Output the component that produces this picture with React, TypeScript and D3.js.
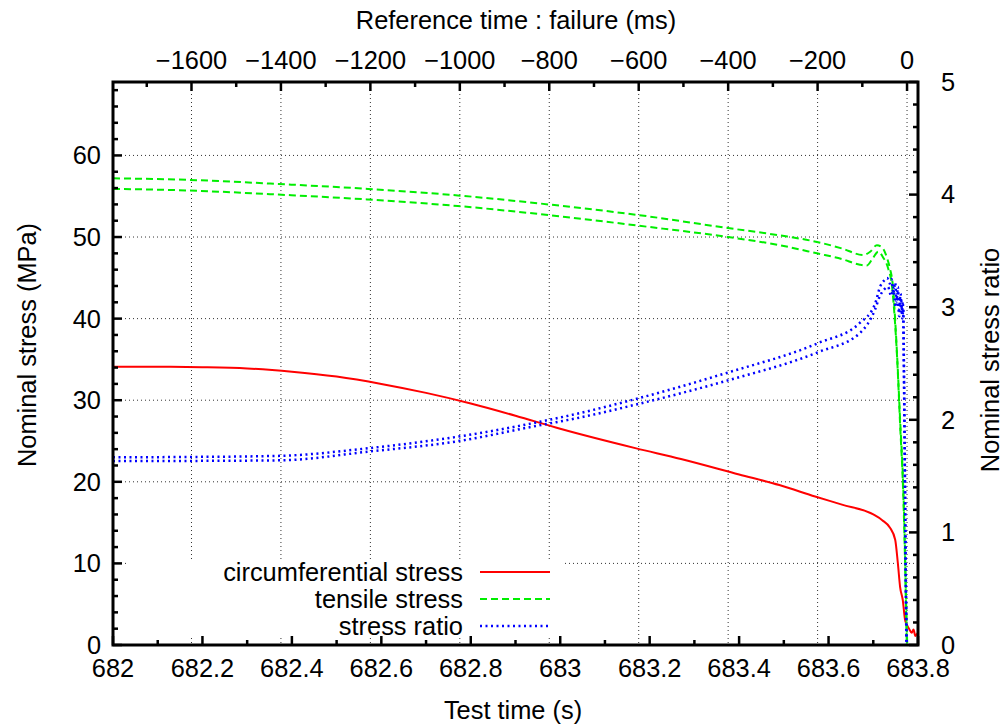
import React from "react";
import * as d3 from "d3";

// ---- data ----
const redTime = [682.0, 682.1, 682.2, 682.3, 682.4, 682.5, 682.6, 682.7, 682.8, 682.9, 683.0, 683.17, 683.27, 683.4, 683.49, 683.57, 683.63, 683.7, 683.72, 683.737, 683.749, 683.755, 683.76, 683.766, 683.771, 683.775, 683.78, 683.786, 683.79, 683.794, 683.797, 683.8];
const circStress = [34.1, 34.1, 34.05, 33.9, 33.5, 32.9, 32.0, 30.9, 29.6, 28.1, 26.5, 24.1, 22.8, 20.9, 19.6, 18.2, 17.2, 16.0, 15.3, 14.4, 12.9, 10.0, 7.1, 5.5, 3.1, 2.5, 2.0, 1.5, 1.9, 1.1, 1.3, 1.5];

const tensUpTime = [682.0, 682.17, 682.37, 682.57, 682.771, 682.973, 683.174, 683.375, 683.491, 683.574, 683.63, 683.677, 683.693, 683.708, 683.72, 683.731, 683.737, 683.744, 683.749, 683.753, 683.76, 683.767, 683.771, 683.773, 683.775];
const tensUp = [57.2, 57.0, 56.5, 55.9, 55.1, 54.0, 52.7, 51.1, 50.2, 49.4, 48.6, 47.8, 48.2, 49.0, 48.7, 47.4, 46.2, 43.9, 39.8, 35.8, 27.6, 19.4, 11.3, 5.1, 0];

const tensLoTime = [682.0, 682.17, 682.37, 682.57, 682.771, 682.973, 683.174, 683.375, 683.491, 683.574, 683.63, 683.67, 683.685, 683.699, 683.711, 683.722, 683.733, 683.742, 683.748, 683.753, 683.76, 683.767, 683.771, 683.774, 683.776];
const tensLo = [55.9, 55.7, 55.2, 54.6, 53.8, 52.7, 51.4, 50.0, 49.0, 48.0, 47.3, 46.6, 46.5, 47.4, 48.2, 47.5, 46.2, 43.9, 40.0, 35.5, 27.0, 18.5, 10.5, 4.0, 0];

const ratioUpTime = [682.0, 682.172, 682.373, 682.57, 682.771, 682.939, 683.044, 683.174, 683.375, 683.576, 683.67, 683.704, 683.715, 683.725, 683.731, 683.737, 683.741, 683.745, 683.749, 683.752, 683.755, 683.758, 683.761, 683.764, 683.766, 683.768, 683.77, 683.772, 683.774];
const ratioUp = [1.667, 1.67, 1.68, 1.747, 1.85, 1.97, 2.06, 2.19, 2.42, 2.68, 2.86, 3.03, 3.18, 3.24, 3.26, 3.21, 3.25, 3.12, 3.22, 3.05, 3.18, 2.98, 3.12, 2.95, 3.05, 2.6, 1.8, 0.9, 0.0];

const ratioLoTime = [682.0, 682.172, 682.373, 682.57, 682.771, 682.939, 683.044, 683.174, 683.375, 683.576, 683.67, 683.704, 683.715, 683.725, 683.733, 683.74, 683.745, 683.75, 683.754, 683.758, 683.762, 683.765, 683.767, 683.769, 683.771, 683.773, 683.775];
const ratioLo = [1.634, 1.635, 1.64, 1.717, 1.81, 1.94, 2.02, 2.14, 2.35, 2.6, 2.77, 2.98, 3.1, 3.16, 3.18, 3.1, 3.17, 3.0, 3.12, 2.92, 3.08, 2.9, 2.98, 2.3, 1.4, 0.5, 0];

const bottomTicks = [682, 682.2, 682.4, 682.6, 682.8, 683, 683.2, 683.4, 683.6, 683.8];
const topTicks = [-1600, -1400, -1200, -1000, -800, -600, -400, -200, 0];
const leftTicks = [0, 10, 20, 30, 40, 50, 60];
const rightTicks = [0, 1, 2, 3, 4, 5];

const legendLabels = ["circumferential stress", "tensile stress", "stress ratio"];

// ---- layout ----
const W = 1007, H = 725;
const L = 113, R = 918, T = 82, B = 645;
const FONT = "'Liberation Sans', Arial, Helvetica, sans-serif";
const FS = 25.4;

export default function App() {
  const x = d3.scaleLinear().domain([682, 683.8]).range([L, R]);
  const xTop = d3.scaleLinear().domain([-1775.5, 24.5]).range([L, R]);
  const y = d3.scaleLinear().domain([0, 69]).range([B, T]);
  const y2 = d3.scaleLinear().domain([0, 5]).range([B, T]);

  const mk = (ts: number[], vs: number[], sy: d3.ScaleLinear<number, number>) =>
    d3.line<number>().x((_, i) => x(ts[i])).y((v) => sy(v)).curve(d3.curveMonotoneX)(vs) || "";

  const leftMinor = d3.range(0, 69.01, 2);
  const rightMinor = d3.range(0, 5.001, 0.2);
  const bottomMinor = d3.range(682, 683.8001, 0.1);
  const topMinor = d3.range(-1700, 1, 100);

  const grid = { stroke: "#333", strokeWidth: 1, strokeDasharray: "1,3" };
  const tickStyle = { stroke: "#000", strokeWidth: 2.5 };

  const legendRows = [572, 599, 626];
  const legendStyles = [
    { stroke: "#ff0000", strokeWidth: 2, strokeDasharray: undefined as string | undefined },
    { stroke: "#00ee00", strokeWidth: 2, strokeDasharray: "7,4" },
    { stroke: "#0000ff", strokeWidth: 2.5, strokeDasharray: "2,3.5" },
  ];

  return (
    <div style={{ position: "absolute", left: 0, top: 0 }}>
      <svg width={W} height={H} style={{ display: "block", background: "#fff" }} fontFamily={FONT}>
        <defs>
          <clipPath id="plotClip">
            <rect x={L} y={T} width={R - L} height={B - T} />
          </clipPath>
        </defs>
        <rect x={0} y={0} width={W} height={H} fill="#fff" />

        {/* grid */}
        {topTicks.map((t) => (
          <line key={"gv" + t} x1={xTop(t)} x2={xTop(t)} y1={T} y2={B} {...grid} />
        ))}
        {leftTicks.filter((v) => v > 0).map((v) => (
          <line key={"gh" + v} x1={L} x2={R} y1={y(v)} y2={y(v)} {...grid} />
        ))}

        {/* legend background */}
        <rect x={127} y={559} width={436} height={78} fill="#fff" />

        {/* curves */}
        <g clipPath="url(#plotClip)" fill="none">
          <path d={mk(redTime, circStress, y)} stroke="#ff0000" strokeWidth={2} />
          <path d={mk(tensUpTime, tensUp, y)} stroke="#00ee00" strokeWidth={2} strokeDasharray="7,4" />
          <path d={mk(tensLoTime, tensLo, y)} stroke="#00ee00" strokeWidth={2} strokeDasharray="7,4" />
          <path d={mk(ratioUpTime, ratioUp, y2)} stroke="#0000ff" strokeWidth={2.5} strokeDasharray="2,3.5" />
          <path d={mk(ratioLoTime, ratioLo, y2)} stroke="#0000ff" strokeWidth={2.5} strokeDasharray="2,3.5" />
        </g>

        {/* legend */}
        {legendLabels.map((lab, i) => (
          <g key={lab}>
            <text x={463} y={legendRows[i]} dy="0.35em" textAnchor="end" fontSize={FS} fill="#000">
              {lab}
            </text>
            <line x1={480} x2={550} y1={legendRows[i]} y2={legendRows[i]} {...legendStyles[i]} />
          </g>
        ))}

        {/* ticks */}
        {leftMinor.map((v) => (
          <line key={"lm" + v} x1={L} x2={L + (v % 10 === 0 ? 9 : 5)} y1={y(v)} y2={y(v)} {...tickStyle} />
        ))}
        {rightMinor.map((v, i) => (
          <line key={"rm" + i} x1={R} x2={R - (i % 5 === 0 ? 9 : 5)} y1={y2(v)} y2={y2(v)} {...tickStyle} />
        ))}
        {bottomMinor.map((v, i) => (
          <line key={"bm" + i} x1={x(v)} x2={x(v)} y1={B} y2={B - (i % 2 === 0 ? 9 : 5)} {...tickStyle} />
        ))}
        {topMinor.map((v, i) => (
          <line key={"tm" + i} x1={xTop(v)} x2={xTop(v)} y1={T} y2={T + (v % 200 === 0 ? 9 : 5)} {...tickStyle} />
        ))}

        {/* frame */}
        <rect x={L} y={T} width={R - L} height={B - T} fill="none" stroke="#000" strokeWidth={3} />

        {/* tick labels */}
        {leftTicks.map((v) => (
          <text key={"ll" + v} x={101} y={y(v)} dy="0.35em" textAnchor="end" fontSize={FS}>
            {v}
          </text>
        ))}
        {rightTicks.map((v) => (
          <text key={"rl" + v} x={941} y={y2(v)} dy="0.35em" textAnchor="start" fontSize={FS}>
            {v}
          </text>
        ))}
        {bottomTicks.map((v) => (
          <text key={"bl" + v} x={x(v)} y={677} textAnchor="middle" fontSize={FS}>
            {d3.format("")(+v.toFixed(1))}
          </text>
        ))}
        {topTicks.map((v) => (
          <text key={"tl" + v} x={xTop(v)} y={69} textAnchor="middle" fontSize={FS}>
            {v < 0 ? "\u2212" + Math.abs(v) : String(v)}
          </text>
        ))}

        {/* axis titles */}
        <text x={516} y={29} textAnchor="middle" fontSize={FS}>
          Reference time : failure (ms)
        </text>
        <text x={513} y={719} textAnchor="middle" fontSize={FS}>
          Test time (s)
        </text>
        <text transform={`translate(27,345) rotate(-90)`} dy="0.35em" textAnchor="middle" fontSize={FS}>
          Nominal stress (MPa)
        </text>
        <text transform={`translate(990,360) rotate(-90)`} dy="0.35em" textAnchor="middle" fontSize={FS}>
          Nominal stress ratio
        </text>
      </svg>
    </div>
  );
}
